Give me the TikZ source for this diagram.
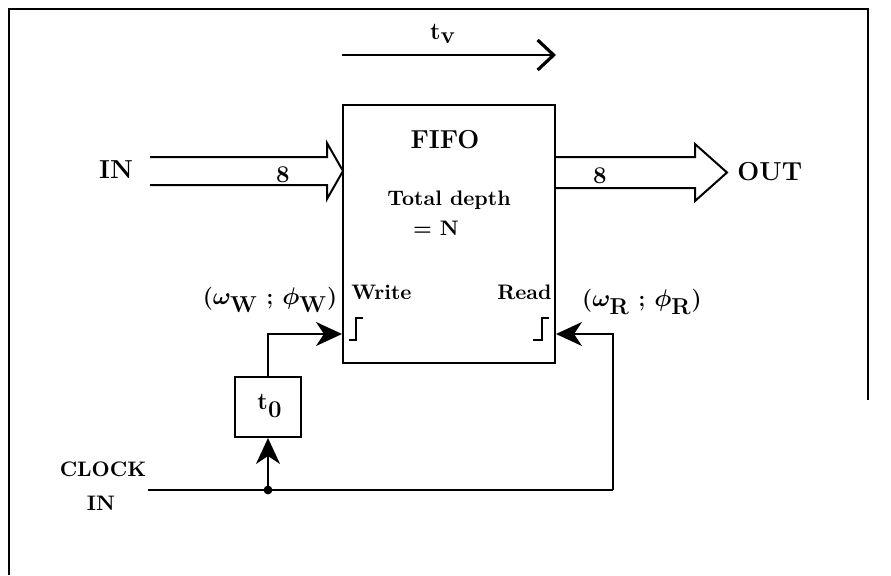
\documentclass[tikz,border=0pt]{standalone}
\usetikzlibrary{arrows.meta}
\begin{document}
\begin{tikzpicture}[x=0.5pt,y=-0.5pt,
  ln/.style={line width=1pt},
  lbl/.style={font=\bfseries\fontsize{10.5}{12}\selectfont, inner sep=0pt},
  num/.style={font=\bfseries\fontsize{12}{14}\selectfont, inner sep=0pt},
  lblm/.style={font=\bfseries\boldmath\fontsize{11.5}{13}\selectfont, inner sep=0pt},
  big/.style={font=\bfseries\fontsize{13}{15}\selectfont, inner sep=0pt},
  sig/.style={ln, -{Stealth[length=13pt,width=12pt,inset=4pt]}},
  chev/.style={ln, -{Straight Barb[length=8pt,width=15pt,line width=1.6pt]}},
  hollow/.style={ln, line join=miter}]
\useasboundingbox (0,0) rectangle (891,575);
% frame
\draw[ln] (9,575) -- (9,9) -- (868,9) -- (868,400);
% FIFO box
\node[draw, ln, minimum width=106pt, minimum height=129pt, inner sep=0pt] (fifo) at (449,234) {};
\node[big] (fifot) at (445,140) {FIFO};
\node[lbl] (depth) at (449,200) {Total depth};
\node[lbl] (eqn) at (436,228) {= N};
\node[lbl, anchor=west] (write) at (351,292) {Write};
\node[lbl, anchor=east] (read) at (552,292) {Read};
% step symbols
\draw[ln] (349,340) -- (356,340) -- (356,318) -- (363,318);
\draw[ln] (533,340) -- (542,340) -- (542,318) -- (549,318);
% tv arrow
\coordinate (tvs) at (342,55);
\coordinate (tve) at (556,55);
\draw[chev] (tvs) -- (tve);
\node[num] (tv) at (443,34) {t$_{\textbf{v}}$};
% IN bus arrow
\draw[hollow] (150,157) -- (327,157) -- (327,143) -- (343,171) -- (327,199) -- (327,185) -- (150,185);
\node[big] (in) at (116,170) {IN};
\node[num] (in8) at (283,175) {8};
% OUT bus arrow
\draw[hollow] (555,157) -- (695,157) -- (695,144) -- (727,172.5) -- (695,201) -- (695,188) -- (555,188);
\node[big, anchor=west] (out) at (737,172) {OUT};
\node[num] (out8) at (600,176) {8};
% delay box
\node[draw, ln, minimum width=33pt, minimum height=30pt, inner sep=0pt] (t0) at (268,407) {};
\node[num] (t0t) at (270,406) {t$_{\textbf{0}}$};
% clock
\coordinate (wy) at (0,334);
\coordinate (clk) at (148,490);
\coordinate (j) at (268,490);
\coordinate (rc) at (613,490);
\draw[ln] (clk) -- (rc);
\fill (j) circle (2.2pt);
\draw[sig] (j) -- (t0.south);
\draw[sig] (t0.north) |- (fifo.west |- wy);
\draw[sig] (rc) |- (fifo.east |- wy);
\node[lbl] (clock) at (103,469) {CLOCK};
\node[lbl] (clkin) at (101,503) {IN};
% labels
\node[lblm] (wl) at (270,300) {{($\omega_{\textbf{W}}$ ; $\phi_{\textbf{W}}$)}};
\node[lblm] (rl) at (642,302) {{($\omega_{\textbf{R}}$ ; $\phi_{\textbf{R}}$)}};
\end{tikzpicture}
\end{document}
